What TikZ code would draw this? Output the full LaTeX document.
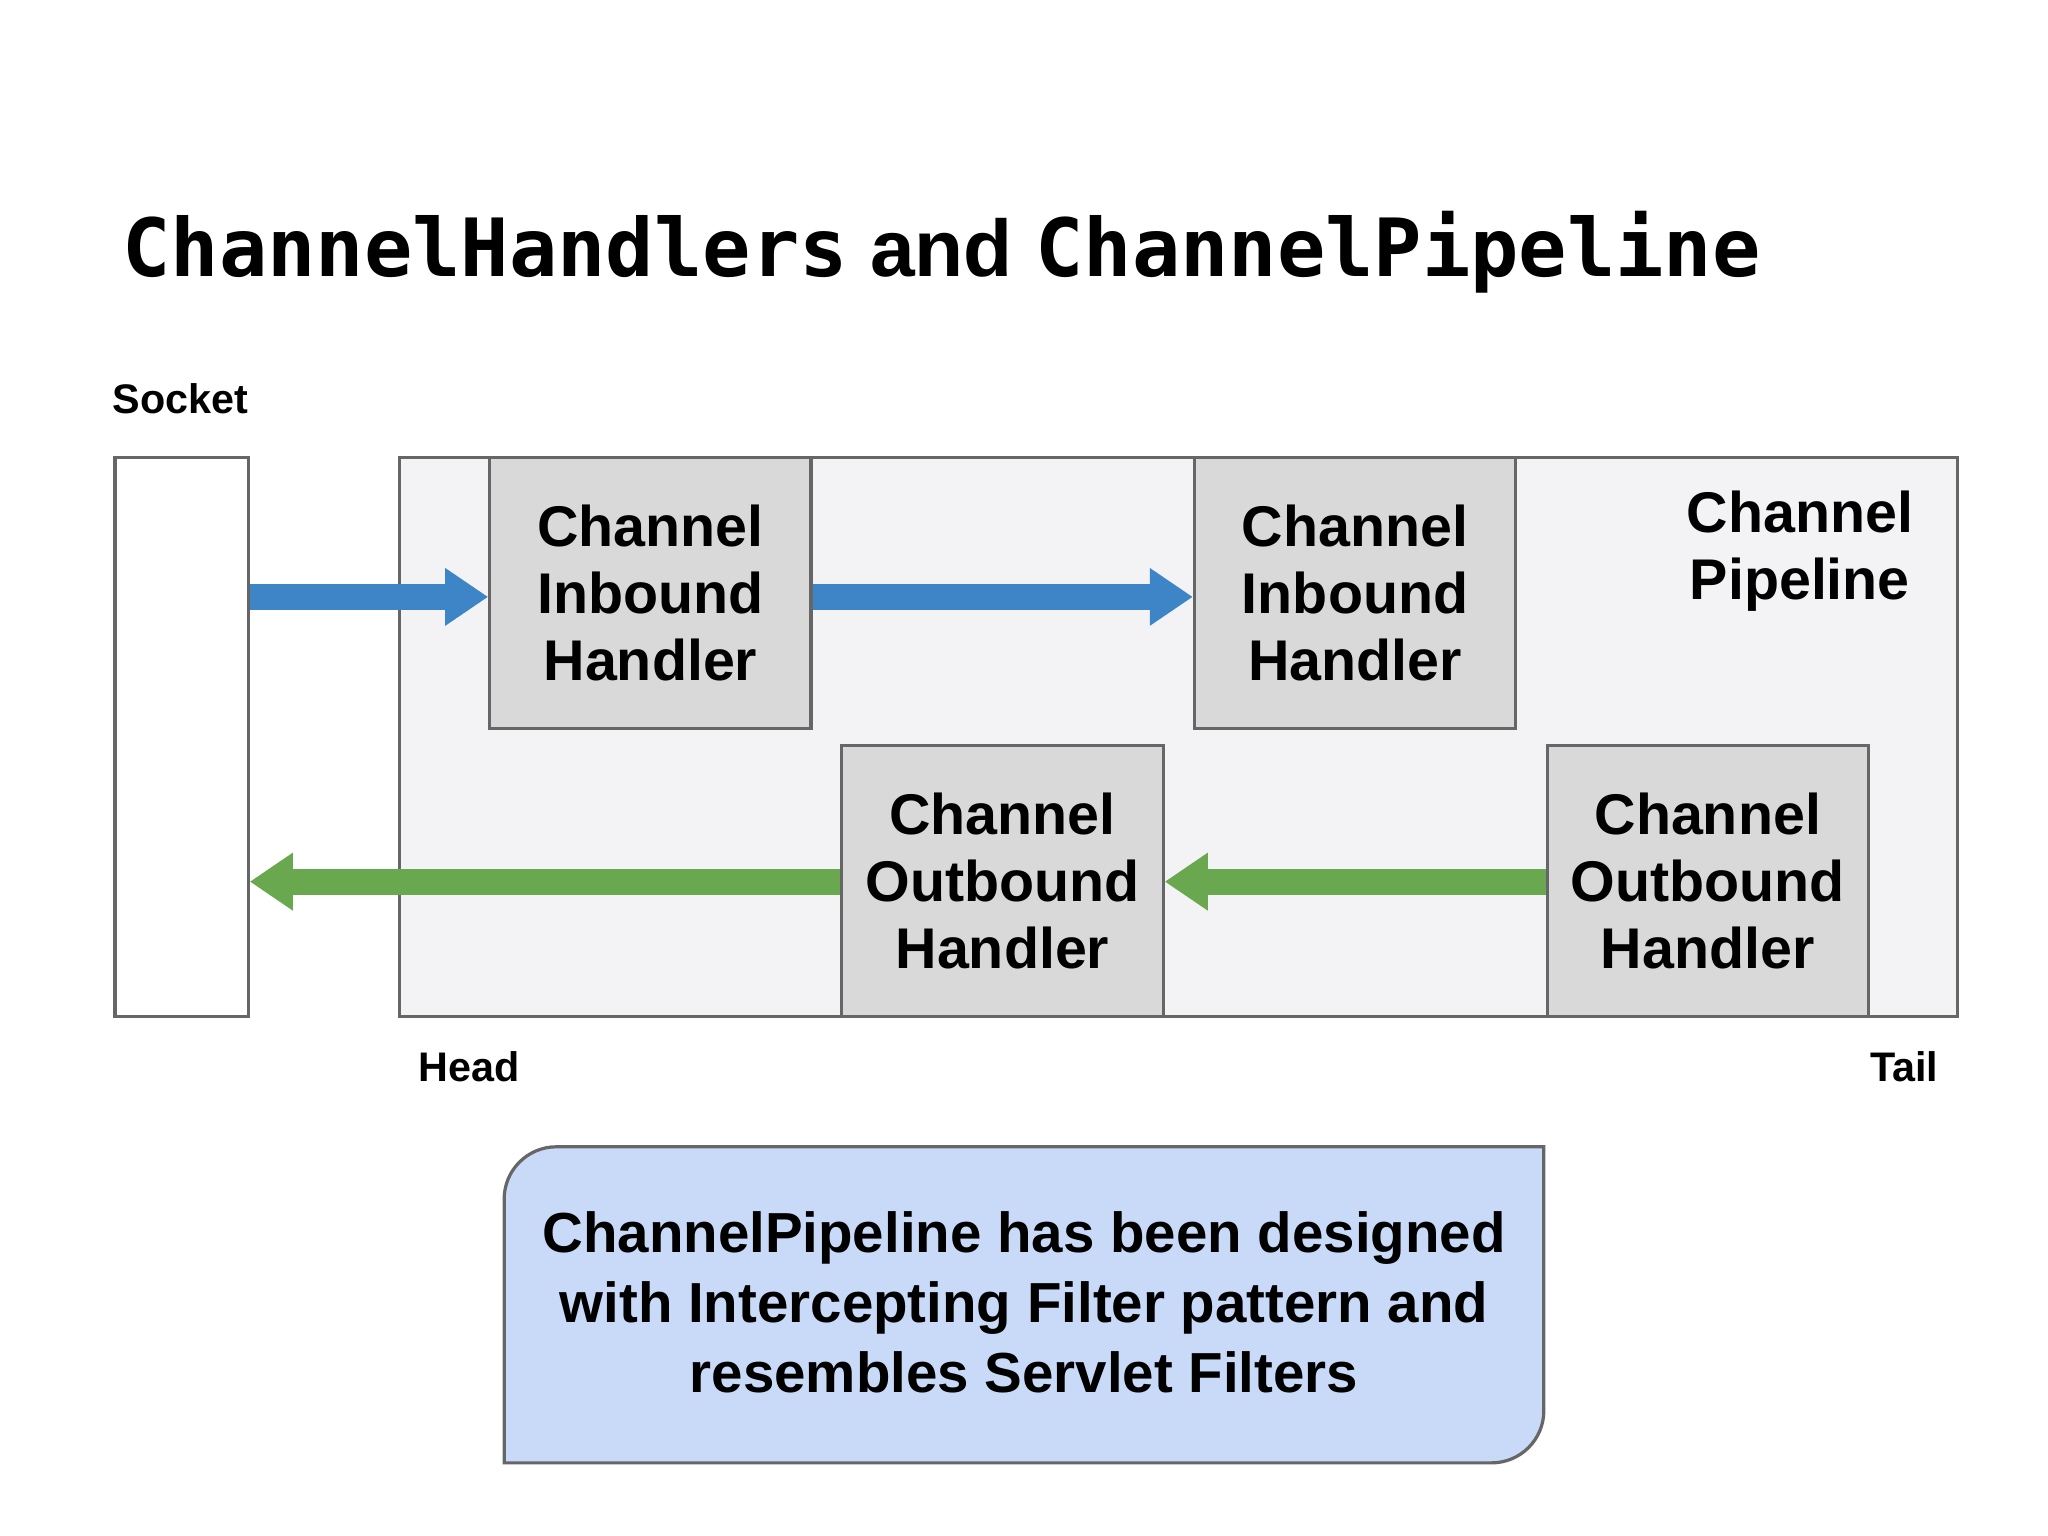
\documentclass[tikz,border=0pt]{standalone}
\usepackage{fontspec}
\setmainfont{Liberation Sans}
\newfontfamily\monof{DejaVu Sans Mono}
\usetikzlibrary{arrows.meta}
\definecolor{strk}{HTML}{666666}
\definecolor{pipe}{HTML}{F3F3F5}
\definecolor{hand}{HTML}{D9D9D9}
\definecolor{blu}{HTML}{3D85C6}
\definecolor{grn}{HTML}{6AA84F}
\definecolor{note}{HTML}{C9DAF8}
\begin{document}
\begin{tikzpicture}[x=0.1mm,y=-0.1mm,
  box/.style={draw=strk,line width=0.7pt,inner sep=0pt},
  hnd/.style={box,fill=hand,minimum width=24.6mm,minimum height=20.8mm,align=center,font=\fontsize{12.5}{14.5}\selectfont\bfseries},
  lbl/.style={font=\fontsize{9}{11}\selectfont\bfseries},
  barrow/.style={line width=2mm,-{Triangle[length=3.3mm,width=4.2mm]}}]
\useasboundingbox (0,0) rectangle (1568,1176);
\node[anchor=base west,inner sep=0pt,font=\fontsize{17.5}{20}\selectfont\bfseries] (title) at (93,212) {{\monof ChannelHandlers} and {\monof ChannelPipeline}};
\node[box,fill=white,minimum width=10.2mm,minimum height=42.8mm] (sock) at (139,564) {};
\node[box,fill=pipe,minimum width=119.3mm,minimum height=42.8mm] (pipe) at (902.5,564) {};
\node[hnd] (in1) at (498,454) {Channel\\Inbound\\Handler};
\node[hnd] (in2) at (1037.5,454) {Channel\\Inbound\\Handler};
\node[hnd,minimum height=20.7mm] (out1) at (767.5,674.5) {Channel\\Outbound\\Handler};
\node[hnd,minimum height=20.7mm] (out2) at (1307.5,674.5) {Channel\\Outbound\\Handler};
\node[align=center,font=\fontsize{12.5}{14.5}\selectfont\bfseries] (pl) at (1378,422) {Channel\\Pipeline};
\node[lbl] (socket) at (138,305) {Socket};
\node[lbl] (head) at (359,817) {Head};
\node[lbl] (tail) at (1458,817) {Tail};
\draw[barrow,blu] (sock.east |- 0,457) -- (in1.west |- 0,457);
\draw[barrow,blu] (in1.east |- 0,457) -- (in2.west |- 0,457);
\draw[barrow,grn] (out1.west |- 0,675) -- (sock.east |- 0,675);
\draw[barrow,grn] (out2.west |- 0,675) -- (out1.east |- 0,675);
\draw[draw=strk,line width=0.7pt,fill=note] (386,918) arc[start angle=180,end angle=270,radius=40] -- (1182,878) -- (1182,1080) arc[start angle=0,end angle=90,radius=40] -- (386,1120) -- cycle;
\node[align=center,font=\fontsize{12.3}{15.3}\selectfont\bfseries] (nt) at (784,997) {ChannelPipeline has been designed\\with Intercepting Filter pattern and\\resembles Servlet Filters};
\end{tikzpicture}
\end{document}
